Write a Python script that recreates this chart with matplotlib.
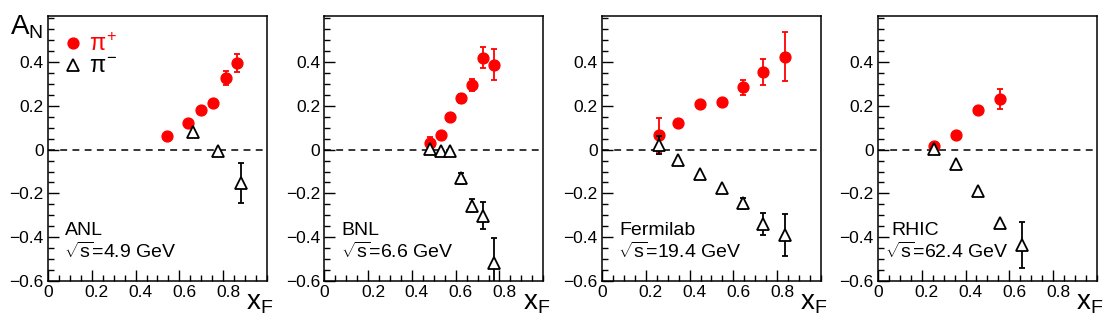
import numpy as np
import matplotlib
matplotlib.use('Agg')
import matplotlib.pyplot as plt
from matplotlib.ticker import MultipleLocator
from matplotlib.transforms import ScaledTranslation

plt.rcParams['font.family'] = ['Liberation Sans', 'DejaVu Sans']
plt.rcParams['mathtext.fontset'] = 'custom'
plt.rcParams['mathtext.rm'] = 'Liberation Sans'
plt.rcParams['mathtext.it'] = 'Liberation Sans'
plt.rcParams['mathtext.bf'] = 'Liberation Sans:bold'

# experiments
labels = ['ANL', 'BNL', 'Fermilab', 'RHIC']
energies = ['4.9', '6.6', '19.4', '62.4']

# pi+ data (xF, A_N, error)
pip_x = [[0.544, 0.640, 0.700, 0.753, 0.812, 0.864],
         [0.484, 0.534, 0.574, 0.623, 0.674, 0.723, 0.776],
         [0.262, 0.345, 0.446, 0.548, 0.642, 0.735, 0.834],
         [0.256, 0.355, 0.455, 0.557]]
pip_y = [[0.060, 0.120, 0.183, 0.214, 0.327, 0.395],
         [0.032, 0.067, 0.151, 0.235, 0.296, 0.420, 0.388],
         [0.067, 0.122, 0.209, 0.218, 0.284, 0.354, 0.425],
         [0.018, 0.069, 0.182, 0.231]]
pip_e = [[0, 0, 0, 0, 0.030, 0.041],
         [0.027, 0, 0, 0.020, 0.028, 0.047, 0.070],
         [0.078, 0, 0, 0, 0.034, 0.059, 0.112],
         [0, 0, 0, 0.044]]

# pi- data
pim_x = [[0.661, 0.776, 0.883],
         [0.484, 0.534, 0.576, 0.623, 0.674, 0.725, 0.776],
         [0.262, 0.345, 0.446, 0.548, 0.642, 0.735, 0.837],
         [0.256, 0.355, 0.455, 0.557, 0.659]]
pim_y = [[0.082, -0.008, -0.153],
         [0.003, -0.005, -0.005, -0.131, -0.256, -0.302, -0.516],
         [0.022, -0.047, -0.111, -0.177, -0.246, -0.340, -0.391],
         [0.002, -0.065, -0.189, -0.337, -0.437]]
pim_e = [[0, 0, 0.092],
         [0, 0, 0, 0.026, 0.030, 0.061, 0.113],
         [0.042, 0, 0, 0, 0.025, 0.050, 0.095],
         [0, 0, 0, 0, 0.105]]

fig = plt.figure(figsize=(11.16, 3.31), dpi=100)
lefts = [0.0430, 0.2906, 0.5394, 0.7867]
shift = ScaledTranslation(5 / 100, 0, fig.dpi_scale_trans)

for i in range(4):
    ax = fig.add_axes([lefts[i], 0.151, 0.1962, 0.8006])
    ax.set_xlim(0, 1)
    ax.set_ylim(-0.6, 0.61)
    ax.axhline(0, color='black', lw=1.1, ls=(0, (4.5, 3.5)), zorder=1)

    # pi+
    x = np.array(pip_x[i]); y = np.array(pip_y[i]); e = np.array(pip_e[i])
    m = e > 0
    ax.errorbar(x[m], y[m], yerr=e[m], fmt='none', ecolor='red',
                elinewidth=1.3, capsize=2.5, capthick=1.3, zorder=2)
    hp, = ax.plot(x, y, 'o', color='red', ms=7.8, mec='red', zorder=3,
                  label=r'$\pi^{+}$')

    # pi-
    x = np.array(pim_x[i]); y = np.array(pim_y[i]); e = np.array(pim_e[i])
    m = e > 0
    ax.errorbar(x[m], y[m], yerr=e[m], fmt='none', ecolor='black',
                elinewidth=1.3, capsize=2.5, capthick=1.3, zorder=4)
    hm, = ax.plot(x, y, '^', mfc='white', mec='black', mew=1.3, ms=8,
                  zorder=5, label=r'$\pi^{-}$')

    ax.set_xticks([0, 0.2, 0.4, 0.6, 0.8])
    ax.set_xticklabels(['0', '0.2', '0.4', '0.6', '0.8'])
    ax.set_yticks([-0.6, -0.4, -0.2, 0, 0.2, 0.4])
    ax.set_yticklabels(['\u22120.6', '\u22120.4', '\u22120.2', '0', '0.2', '0.4'])
    ax.xaxis.set_minor_locator(MultipleLocator(0.05))
    ax.yaxis.set_minor_locator(MultipleLocator(0.05))
    ax.tick_params(which='both', direction='in', top=False, right=False,
                   labelsize=12.5, width=1)
    ax.tick_params(which='major', length=8, pad=3)
    ax.tick_params(which='minor', length=4)
    for lab in ax.get_xticklabels()[1:]:
        lab.set_transform(lab.get_transform() + shift)
    for s in ax.spines.values():
        s.set_linewidth(1.1)

    ax.text(1.03, -0.035, r'$\mathregular{x_F}$', transform=ax.transAxes,
            ha='right', va='top', fontsize=20)
    ax.text(0.078 if i != 3 else 0.063, 0.19, labels[i], transform=ax.transAxes,
            fontsize=14, va='center')
    ax.text(0.075 if i != 3 else 0.03, 0.11,
            r'$\sqrt{\mathregular{s}}$=' + energies[i] + ' GeV',
            transform=ax.transAxes, fontsize=14, va='center')

    if i == 0:
        leg = ax.legend(handles=[hp, hm], loc='upper left',
                        bbox_to_anchor=(0.04, 0.97), frameon=False,
                        fontsize=17, handlelength=0.6, handletextpad=0.35,
                        labelspacing=0.0, borderaxespad=0)
        leg.get_texts()[0].set_color('red')

fig.text(0.009, 0.96, r'$\mathregular{A_N}$', fontsize=20, va='top', ha='left')

fig.savefig('out.png', dpi=100)
